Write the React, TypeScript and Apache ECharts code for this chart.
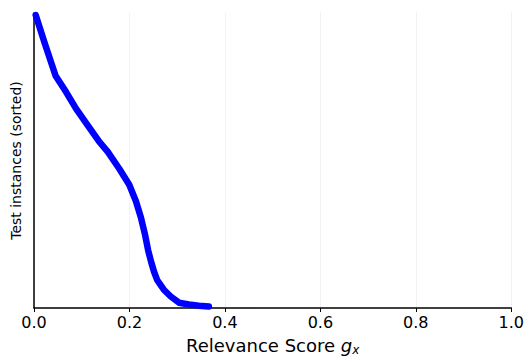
import React, { useEffect, useRef } from "react";
import * as echarts from "echarts";

const scores = [0.0035, 0.0223, 0.0452, 0.0676, 0.0884, 0.1126, 0.137, 0.1543, 0.1787, 0.1996, 0.2136, 0.224, 0.2323, 0.2392, 0.2455, 0.2517, 0.258, 0.272, 0.2865, 0.3038, 0.3247, 0.3456, 0.3664];
const ranks = [993, 898, 787, 731, 675, 619, 563, 530, 472, 418, 362, 307, 251, 195, 156, 122, 95, 62, 39, 18, 12, 8, 5];
const xTicks = [0, 0.2, 0.4, 0.6, 0.8, 1.0];

export default function App() {
  const ref = useRef<HTMLDivElement>(null);
  useEffect(() => {
    const chart = echarts.init(ref.current!, undefined, { renderer: "svg" });
    const font = "DejaVu Sans";
    chart.setOption({
      animation: false,
      textStyle: { fontFamily: font },
      grid: { left: 34, right: 13.5, top: 13, bottom: 49.5 },
      xAxis: {
        type: "value",
        min: 0,
        max: 1,
        interval: 0.2,
        name: "Relevance Score {i|g}{s|x}",
        nameLocation: "middle",
        nameGap: 27,
        nameTextStyle: {
          fontSize: 18,
          color: "#000",
          fontFamily: font,
          rich: {
            i: { fontSize: 18, fontStyle: "italic", fontFamily: font, color: "#000" },
            s: { fontSize: 12, fontStyle: "italic", fontFamily: font, color: "#000", verticalAlign: "bottom", padding: [9, 0, 0, 0] },
          },
        },
        axisLine: { show: true, lineStyle: { color: "#000", width: 1.5 } },
        axisTick: { show: true, length: 4, lineStyle: { color: "#000", width: 1 } },
        axisLabel: {
          fontSize: 16,
          color: "#000",
          fontFamily: font,
          margin: 6,
          formatter: (v: number) => {
            const t = xTicks.find((x) => Math.abs(x - v) < 1e-9);
            return t === undefined ? "" : t.toFixed(1);
          },
        },
        splitLine: { show: true, lineStyle: { color: "#dddddd", type: "dotted", width: 0.8 } },
      },
      yAxis: {
        type: "value",
        min: 0,
        max: 1000,
        name: "Test instances (sorted)",
        nameLocation: "middle",
        nameGap: 11,
        nameRotate: 90,
        nameTextStyle: { fontSize: 14, color: "#000", fontFamily: font },
        axisLine: { show: true, lineStyle: { color: "#000", width: 1.5 } },
        axisTick: { show: false },
        axisLabel: { show: false },
        splitLine: { show: false },
      },
      series: [
        {
          type: "line",
          data: scores.map((s, i) => [s, ranks[i]]),
          showSymbol: false,
          smooth: false,
          lineStyle: { color: "#0000ff", width: 6.5, cap: "round", join: "round" },
          z: 3,
        },
      ],
    });
    return () => chart.dispose();
  }, []);
  return <div ref={ref} style={{ width: 527, height: 361, position: "absolute", left: 0, top: 0 }} />;
}
